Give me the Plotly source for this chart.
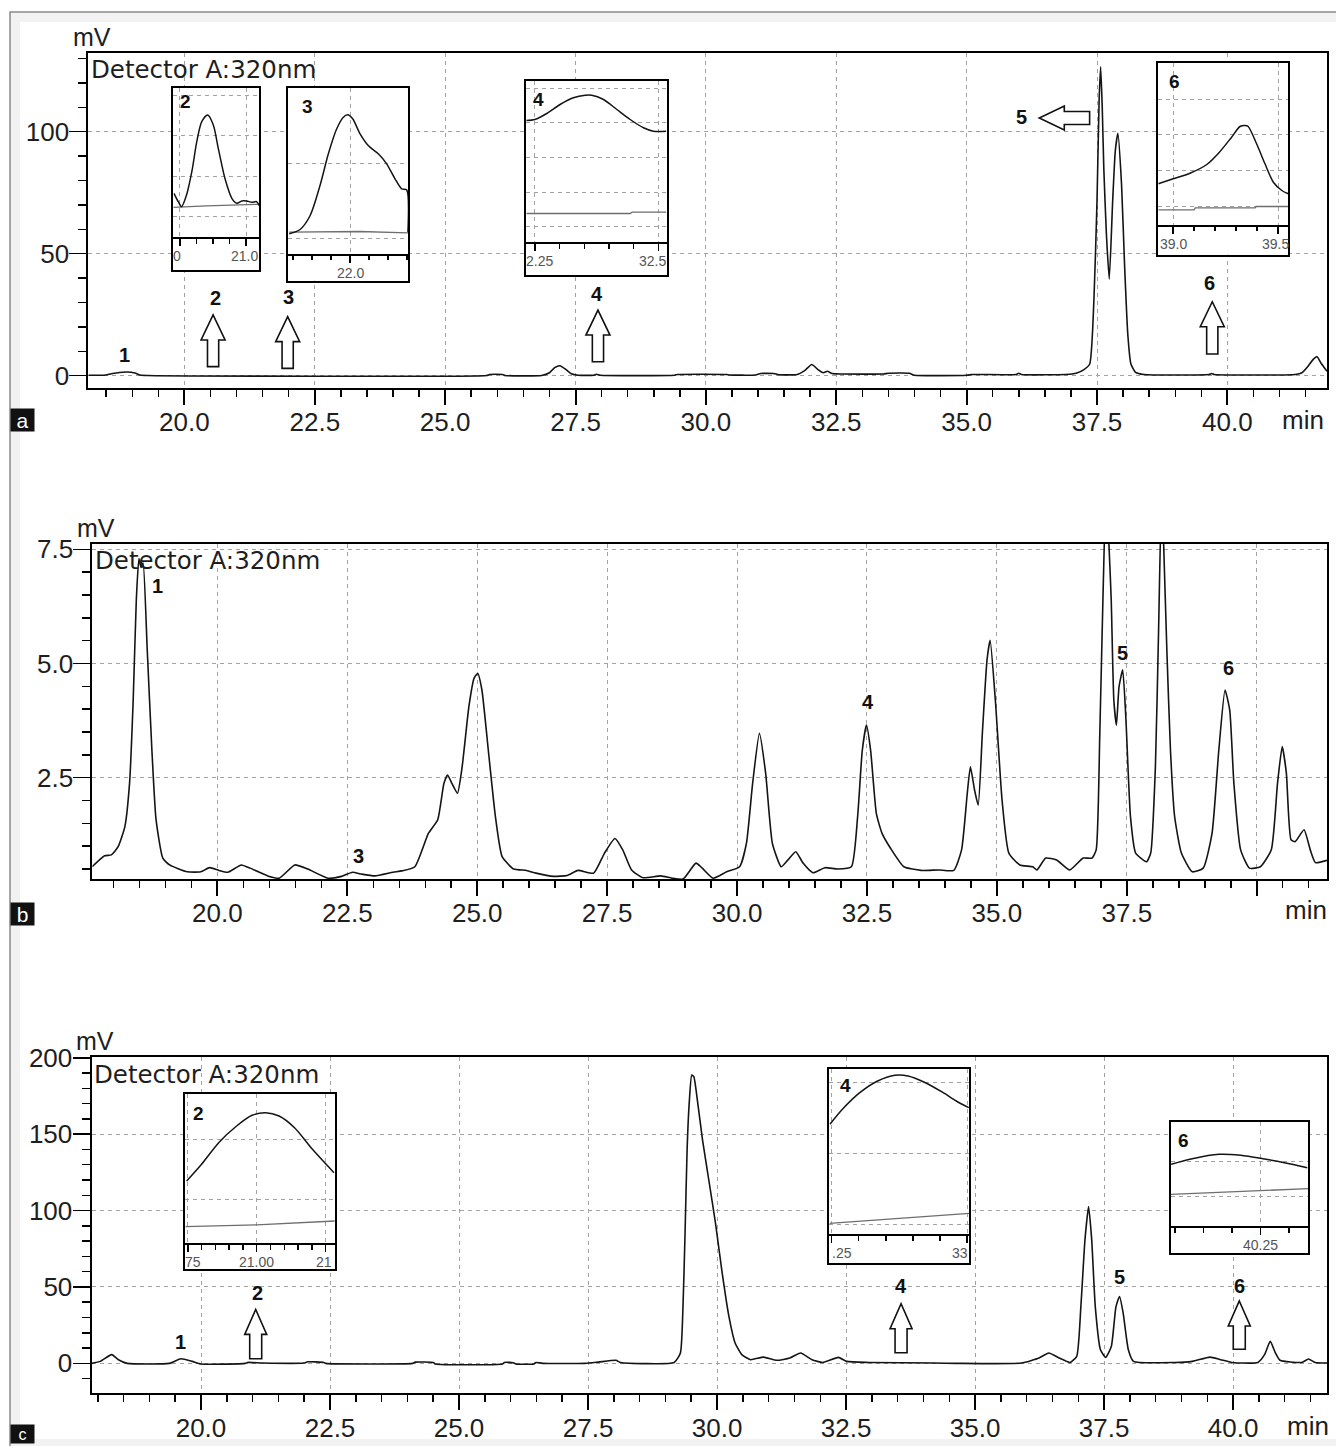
import plotly.graph_objects as go

W, H = 1336, 1446
FONT = "Liberation Sans, Arial, sans-serif"
FONT_WIDE = "DejaVu Sans, Verdana, sans-serif"

# ---------------------------------------------------------------- data
# Panel a : main chromatogram (retention time [min], signal [mV])
a_time = [18.16, 18.45, 18.6, 18.75, 18.9, 19.05, 19.15, 19.3, 25.8, 25.85, 26.1, 26.15,
          26.85, 27.0, 27.1, 27.2, 27.3, 27.42, 27.55, 27.85, 27.9, 27.97, 29.4, 29.45,
          30.4, 30.45, 30.95, 31.05, 31.3, 31.4, 31.75, 31.9, 32.03, 32.15, 32.25, 32.33,
          32.42, 32.6, 33.4, 33.5, 33.9, 34.0, 35.0, 35.1, 35.95, 36.0, 36.05, 36.9,
          37.1, 37.25, 37.36, 37.44, 37.5, 37.54, 37.57, 37.6, 37.63, 37.68, 37.735, 37.8,
          37.85, 37.9, 37.97, 38.03, 38.09, 38.15, 38.24, 38.4, 39.65, 39.7, 39.75, 41.3,
          41.43, 41.55, 41.65, 41.72, 41.8, 41.91]
a_mv = [0.2, 0.2, 0.8, 1.3, 1.5, 1.1, 0.3, 0.1, 0.1, 0.5, 0.5, 0.1,
        0.1, 1.2, 3.3, 4.1, 2.8, 0.8, 0.2, 0.2, 0.6, 0.2, 0.2, 0.5,
        0.5, 0.3, 0.3, 0.9, 0.9, 0.4, 0.5, 2.2, 4.6, 2.5, 1.2, 1.8,
        0.9, 0.7, 0.7, 1.0, 1.0, 0.2, 0.2, 0.5, 0.5, 1.0, 0.5, 0.5,
        1.0, 2.5, 4.8, 30.7, 71.7, 112.7, 126.6, 110.0, 85.0, 58.0, 39.6, 71.7,
        92.0, 99.3, 78.5, 44.4, 17.0, 4.8, 1.4, 0.5, 0.5, 0.9, 0.5, 0.5,
        1.2, 4.0, 6.8, 7.8, 5.0, 1.8]

# Panel b : main chromatogram
b_time = [17.59, 17.83, 17.96, 18.09, 18.22, 18.31, 18.38, 18.44, 18.49, 18.53, 18.57, 18.65,
          18.74, 18.82, 18.95, 19.08, 19.42, 19.68, 19.85, 20.03, 20.2, 20.46, 20.63, 20.97,
          21.19, 21.49, 21.74, 22.13, 22.39, 22.6, 22.77, 23.03, 23.38, 23.55, 23.8, 24.06,
          24.24, 24.36, 24.43, 24.51, 24.62, 24.71, 24.84, 24.94, 25.01, 25.09, 25.22, 25.35,
          25.48, 25.7, 25.95, 26.13, 26.47, 26.73, 26.94, 27.24, 27.45, 27.65, 27.8, 27.97,
          28.19, 28.53, 28.75, 28.96, 29.21, 29.33, 29.54, 29.8, 30.05, 30.18, 30.3, 30.43,
          30.55, 30.68, 30.85, 30.98, 31.13, 31.27, 31.46, 31.69, 31.94, 32.2, 32.32, 32.41,
          32.49, 32.57, 32.68, 32.79, 32.95, 33.21, 33.54, 33.88, 34.17, 34.32, 34.43, 34.49,
          34.57, 34.64, 34.72, 34.81, 34.87, 34.97, 35.1, 35.23, 35.44, 35.69, 35.77, 35.94,
          36.15, 36.4, 36.66, 36.83, 36.91, 36.98, 37.04, 37.1, 37.16, 37.2, 37.25, 37.3,
          37.35, 37.42, 37.48, 37.57, 37.67, 37.88, 37.96, 38.05, 38.11, 38.17, 38.21, 38.27,
          38.34, 38.42, 38.55, 38.76, 38.97, 39.14, 39.27, 39.39, 39.48, 39.56, 39.69, 39.86,
          40.07, 40.28, 40.4, 40.49, 40.57, 40.66, 40.74, 40.91, 41.03, 41.13, 41.35]
b_mv = [0.55, 0.79, 0.81, 0.99, 1.43, 2.38, 4.2, 6.39, 7.3, 7.1, 7.2, 5.3,
        3.1, 1.58, 0.74, 0.59, 0.44, 0.44, 0.53, 0.47, 0.43, 0.59, 0.52, 0.35,
        0.30, 0.59, 0.5, 0.3, 0.34, 0.43, 0.39, 0.35, 0.43, 0.46, 0.55, 1.28,
        1.58, 2.38, 2.56, 2.38, 2.16, 2.74, 4.06, 4.68, 4.78, 4.42, 3.03, 1.65,
        0.77, 0.5, 0.47, 0.41, 0.34, 0.36, 0.47, 0.41, 0.85, 1.17, 0.92, 0.48,
        0.31, 0.35, 0.3, 0.28, 0.63, 0.52, 0.3, 0.44, 0.55, 1.06, 2.38, 3.47,
        2.6, 1.06, 0.55, 0.7, 0.88, 0.63, 0.42, 0.53, 0.5, 0.55, 1.65, 3.1,
        3.65, 3.1, 1.72, 1.28, 0.96, 0.55, 0.47, 0.48, 0.47, 0.92, 2.16, 2.74,
        2.23, 1.9, 3.47, 5.08, 5.51, 4.2, 2.0, 0.85, 0.59, 0.55, 0.48, 0.74,
        0.7, 0.48, 0.74, 0.74, 0.92, 3.47, 6.39, 8.8, 7.5, 6.39, 4.2, 3.65,
        4.49, 4.86, 3.84, 1.65, 0.85, 0.66, 0.85, 2.74, 5.66, 8.8, 7.56, 5.3,
        3.1, 1.65, 0.85, 0.44, 0.52, 1.28, 3.1, 4.42, 3.98, 2.38, 0.92, 0.52,
        0.55, 0.92, 2.38, 3.18, 2.6, 1.14, 1.1, 1.36, 0.92, 0.64, 0.69]

# Panel c : main chromatogram
c_time = [17.88, 18.05, 18.27, 18.4, 18.57, 19.39, 19.61, 19.83, 20.0, 20.86, 20.9, 21.2,
          21.99, 22.07, 22.38, 22.42, 24.1, 24.15, 24.5, 24.54, 25.84, 25.88, 26.05, 26.1,
          26.45, 26.49, 26.62, 27.44, 27.7, 28.04, 28.13, 29.17, 29.29, 29.34, 29.38, 29.42,
          29.46, 29.51, 29.55, 29.62, 29.72, 29.84, 29.97, 30.1, 30.23, 30.35, 30.48, 30.65,
          30.9, 31.16, 31.41, 31.62, 31.84, 32.05, 32.35, 32.51, 32.94, 34.21, 34.63, 35.9,
          36.24, 36.43, 36.63, 36.84, 36.97, 37.05, 37.13, 37.2, 37.26, 37.33, 37.43, 37.53,
          37.64, 37.73, 37.8, 37.87, 37.97, 38.07, 38.87, 39.21, 39.55, 39.76, 39.98, 40.48,
          40.61, 40.72, 40.82, 40.91, 41.33, 41.46, 41.59, 41.82]
c_mv = [0.0, 1.3, 5.7, 2.4, 0.0, 0.0, 3.0, 1.3, -0.4, 0.0, 0.6, 0.2,
        0.2, 1.0, 0.6, 0.0, 0.0, 0.8, 0.6, -0.4, -0.4, 0.6, 0.4, -0.4,
        -0.4, 0.6, 0.0, 0.0, 0.8, 2.0, 0.6, 0.6, 6.8, 37.0, 85.0, 140.0,
        170.0, 188.7, 187.6, 172.0, 146.0, 120.0, 91.7, 59.0, 30.7, 13.3, 5.7, 2.4,
        4.1, 2.0, 3.5, 6.8, 2.4, 0.6, 3.9, 1.3, 0.6, 0.2, 0.0, 0.2,
        3.5, 6.8, 3.5, 0.6, 4.6, 37.0, 81.0, 102.6, 81.0, 37.0, 8.9, 3.9,
        11.0, 37.0, 43.8, 32.9, 8.9, 1.3, 0.6, 1.3, 4.1, 2.4, 0.6, 0.6,
        5.7, 14.4, 6.8, 2.0, 0.6, 2.8, 0.6, 0.2]

# Insets (zoomed views; signal in relative units of each inset)
ia2_t = [20.782, 20.795, 20.805, 20.82, 20.836, 20.851, 20.866, 20.884, 20.901, 20.916,
         20.936, 20.957, 20.972, 20.987, 21.002, 21.017, 21.032, 21.04]
ia2_v = [44, 35.6, 30.6, 42.3, 65.6, 95.6, 115.6, 122.3, 112.3, 89, 59, 39, 34, 36.3,
         36.3, 35, 35.6, 31.6]
ia2_bt = [20.78, 20.88, 21.04]
ia2_bv = [30, 31.5, 33]

ia3_t = [21.68, 21.737, 21.79, 21.842, 21.886, 21.93, 21.965, 21.988, 22.014, 22.053,
         22.096, 22.149, 22.193, 22.237, 22.272, 22.298, 22.305]
ia3_v = [20, 24.3, 38.3, 68.3, 100, 125, 136.6, 139, 135, 120, 108.3, 100, 90, 75, 65, 64, 21.6]
ia3_bt = [21.68, 22.05, 22.305]
ia3_bv = [21.6, 22.3, 21.0]

ia4_t = [32.233, 32.25, 32.274, 32.301, 32.328, 32.352, 32.365, 32.389, 32.416, 32.443,
         32.47, 32.49, 32.516]
ia4_v = [121.7, 122.7, 128.7, 137.7, 144.4, 147, 147, 142.7, 132.7, 122.7, 114.4, 111, 111]
ia4_bt = [32.233, 32.443, 32.447, 32.516]
ia4_bv = [28.7, 28.7, 30, 30]

ia6_t = [38.929, 39.0, 39.08, 39.16, 39.22, 39.278, 39.318, 39.342, 39.357, 39.397,
         39.437, 39.477, 39.517, 39.548]
ia6_v = [40.7, 45.7, 51.3, 60, 72.3, 87.3, 98, 99, 98, 80.7, 60.7, 42.3, 34, 30.7]
ia6_bt = [38.929, 39.1, 39.105, 39.39, 39.395, 39.548]
ia6_bv = [14.7, 14.7, 16.7, 16.7, 18, 18]

ic2_t = [20.746, 20.8, 20.862, 20.927, 20.983, 21.032, 21.081, 21.137, 21.202, 21.28]
ic2_v = [62.3, 79, 100.6, 117.3, 128, 130.6, 127.3, 115.6, 94, 70.6]
ic2_bt = [20.741, 21.0, 21.283]
ic2_bv = [16.6, 18.5, 22.3]

ic4_t = [33.247, 33.27, 33.302, 33.335, 33.367, 33.391, 33.423, 33.456, 33.48, 33.503]
ic4_v = [110, 125, 141.6, 153.3, 159, 158.3, 151.6, 141.6, 133.3, 126.6]
ic4_bt = [33.246, 33.504]
ic4_bv = [11, 21]

ic6_t = [40.093, 40.13, 40.177, 40.215, 40.254, 40.292, 40.332]
ic6_v = [61.7, 67.3, 71.7, 70.7, 67.3, 63.3, 58.3]
ic6_bt = [40.092, 40.334]
ic6_bv = [31.7, 37.3]

# Tick labels
x_tick_vals = [20.0, 22.5, 25.0, 27.5, 30.0, 32.5, 35.0, 37.5, 40.0]
x_tick_text_a = ["20.0", "22.5", "25.0", "27.5", "30.0", "32.5", "35.0", "37.5", "40.0"]
x_tick_text_b = ["20.0", "22.5", "25.0", "27.5", "30.0", "32.5", "35.0", "37.5", ""]
x_tick_text_c = ["20.0", "22.5", "25.0", "27.5", "30.0", "32.5", "35.0", "37.5", "40.0"]
y_tick_vals_a = [0, 50, 100]
y_tick_text_a = ["0", "50", "100"]
y_tick_vals_b = [2.5, 5.0, 7.5]
y_tick_text_b = ["2.5", "5.0", "7.5"]
y_tick_vals_c = [0, 50, 100, 150, 200]
y_tick_text_c = ["0", "50", "100", "150", "200"]

ia2_ticks, ia2_ticktext = [20.8, 21.0], ["0", "21.0"]
ia3_ticks, ia3_ticktext = [22.0], ["22.0"]
ia4_ticks, ia4_ticktext = [32.25, 32.5], ["2.25", "32.5"]
ia6_ticks, ia6_ticktext = [39.0, 39.5], ["39.0", "39.5"]
ic2_ticks, ic2_ticktext = [20.75, 21.0, 21.25], ["75", "21.00", "21"]
ic4_ticks, ic4_ticktext = [33.25, 33.5], [".25", "33"]
ic6_ticks, ic6_ticktext = [40.25], ["40.25"]

# Peak labels (time, mV, text)
a_lab_t = [18.86, 20.59, 22.0, 27.92, 36.05, 39.65]
a_lab_v = [8.5, 32.0, 32.4, 33.5, 106.0, 38.0]
a_lab_s = ["1", "2", "3", "4", "5", "6"]
b_lab_t = [18.85, 22.71, 32.51, 37.41, 39.45]
b_lab_v = [6.70, 0.79, 4.15, 5.24, 4.90]
b_lab_s = ["1", "3", "4", "5", "6"]
c_lab_t = [19.60, 21.09, 33.57, 37.80, 40.12]
c_lab_v = [14.1, 46.2, 50.6, 56.6, 50.4]
c_lab_s = ["1", "2", "4", "5", "6"]

# Hollow arrows pointing at trace peaks (time, base mV, tip mV)
a_arrow_t = [20.55, 21.98, 27.93, 39.71]
a_arrow_base = [3.7, 3.0, 5.7, 8.9]
a_arrow_tip = [24.9, 24.2, 26.9, 30.3]
a_left_arrow = dict(tip=36.393, tail=37.358, y=105.6)
c_arrow_t = [21.06, 33.566, 40.12]
c_arrow_base = [3.0, 6.9, 9.2]
c_arrow_tip = [35.3, 39.0, 40.8]

assert len(a_time) == len(a_mv) and len(b_time) == len(b_mv) and len(c_time) == len(c_mv)

# ---------------------------------------------------------------- layout helpers
def fx(px):
    return px / W


def fy(py):
    return 1 - py / H


def dom_x(x0, x1):
    return [fx(x0), fx(x1)]


def dom_y(top, bottom):
    return [fy(bottom), fy(top)]


PANELS = [
    dict(s="", xd=(88.4, 1327), yd=(52.7, 387.7), xr=(18.159, 41.91), yr=(-4.92, 132.38),
         t=a_time, v=a_mv, xtt=x_tick_text_a, ytv=y_tick_vals_a, ytt=y_tick_text_a, ymin=10,
         mv=(92, 37), mn=(1303, 420), det=(89, 53), letter=("a", 408, 22, 21),
         labs=(a_lab_t, a_lab_v, a_lab_s)),
    dict(s="2", xd=(92.4, 1327), yd=(544, 879), xr=(17.595, 41.352), yr=(0.282, 7.616),
         t=b_time, v=b_mv, xtt=x_tick_text_b, ytv=y_tick_vals_b, ytt=y_tick_text_b, ymin=0.5,
         mv=(96, 528), mn=(1306, 910), det=(93, 544), letter=("b", 902, 22, 21),
         labs=(b_lab_t, b_lab_v, b_lab_s)),
    dict(s="3", xd=(91.5, 1327), yd=(1057, 1393.3), xr=(17.878, 41.82), yr=(-19.6, 200.5),
         t=c_time, v=c_mv, xtt=x_tick_text_c, ytv=y_tick_vals_c, ytt=y_tick_text_c, ymin=10,
         mv=(95, 1041), mn=(1308, 1426), det=(92, 1058), letter=("c", 1424, 18, 16),
         labs=(c_lab_t, c_lab_v, c_lab_s)),
]

# inset: frame (left, right, top, bottom px), inner line py, ranges, grid, label shifts
INSETS = [
    dict(frame=(173.3, 259.3, 88.3, 270.0), inner=237.3, xr=(20.78, 21.04), yr=(0, 149),
         ticks=ia2_ticks, tt=ia2_ticktext, shift=[-3, -1.5], minor=0.05,
         yg=[20.7, 61.2, 101.7, 142.2], t=ia2_t, v=ia2_v, bt=ia2_bt, bv=ia2_bv,
         num="2", npos=(186, 101.7)),
    dict(frame=(288.3, 408.3, 88.3, 280.5), inner=253.8, xr=(21.675, 22.307), yr=(0, 165.5),
         ticks=ia3_ticks, tt=ia3_ticktext, shift=[0], minor=0.1,
         yg=[15.5, 90.5], t=ia3_t, v=ia3_v, bt=ia3_bt, bv=ia3_bv,
         num="3", npos=(307.5, 106.7)),
    dict(frame=(526, 666.7, 80.7, 274.5), inner=242.2, xr=(32.232, 32.517), yr=(0, 161.5),
         ticks=ia4_ticks, tt=ia4_ticktext, shift=[4.3, -5.8], minor=0.05,
         yg=[15.5, 50.1, 84.7, 119.3, 153.9], t=ia4_t, v=ia4_v, bt=ia4_bt, bv=ia4_bv,
         num="4", npos=(538.3, 99.2)),
    dict(frame=(1158.3, 1288.3, 62.5, 254.5), inner=224.5, xr=(38.929, 39.548), yr=(0, 162),
         ticks=ia6_ticks, tt=ia6_ticktext, shift=[0, -2.5], minor=0.1,
         yg=[18.5, 54.1, 89.7, 125.3], t=ia6_t, v=ia6_v, bt=ia6_bt, bv=ia6_bv,
         num="6", npos=(1174, 81.7)),
    dict(frame=(185.3, 334.8, 1094.3, 1269.3), inner=1243.3, xr=(20.741, 21.283), yr=(0, 149),
         ticks=ic2_ticks, tt=ic2_ticktext, shift=[4.8, 0, -2], minor=0.05,
         yg=[44, 104], t=ic2_t, v=ic2_v, bt=ic2_bt, bv=ic2_bv,
         num="2", npos=(198.5, 1113)),
    dict(frame=(829.4, 969.3, 1068.7, 1262.7), inner=1234.3, xr=(33.246, 33.504), yr=(0, 165.6),
         ticks=ic4_ticks, tt=ic4_ticktext, shift=[10.8, -6.9], minor=0.05,
         yg=[10, 81, 152], t=ic4_t, v=ic4_v, bt=ic4_bt, bv=ic4_bv,
         num="4", npos=(845.7, 1085.8)),
    dict(frame=(1170.6, 1308.4, 1122, 1253.3), inner=1226, xr=(40.092, 40.334), yr=(0, 104),
         ticks=ic6_ticks, tt=ic6_ticktext, shift=[0], minor=0.05,
         yg=[30, 65], t=ic6_t, v=ic6_v, bt=ic6_bt, bv=ic6_bv,
         num="6", npos=(1183.5, 1140.8)),
]

GRID = dict(showgrid=True, gridcolor="#a3a3a3", gridwidth=1, griddash="4px,4px")

fig = go.Figure()
layout = dict(template="none", width=W, height=H, margin=dict(l=0, r=0, t=0, b=0, pad=0),
              autosize=False, paper_bgcolor="white", plot_bgcolor="white", showlegend=False,
              font=dict(family=FONT, color="#1a1a1a"))
annotations = []
shapes = []

# page frame (light border band)
shapes.append(dict(type="rect", xref="paper", yref="paper", x0=fx(10), x1=fx(1350), y0=fy(1460),
                   y1=fy(12), line=dict(color="#8a8a8a", width=1.5), fillcolor="#f2f2f2",
                   layer="below"))
shapes.append(dict(type="rect", xref="paper", yref="paper", x0=fx(20), x1=fx(1336), y0=fy(1439),
                   y1=fy(22), line=dict(width=0), fillcolor="white", layer="below"))

for p in PANELS:
    s = p["s"]
    fig.add_trace(go.Scatter(x=p["t"], y=p["v"], mode="lines", xaxis="x" + s, yaxis="y" + s,
                             line=dict(color="#141414", width=1.6, shape="spline",
                                       smoothing=0.5),
                             hoverinfo="skip"))
    layout["xaxis" + s] = dict(
        domain=dom_x(*p["xd"]), range=list(p["xr"]), anchor="y" + s, automargin=False,
        showline=True, linecolor="black", linewidth=2, mirror=True,
        ticks="outside", ticklen=15, tickwidth=2, tickcolor="black",
        tickmode="array", tickvals=x_tick_vals, ticktext=p["xtt"],
        tickfont=dict(family=FONT, size=26, color="#1e1e1e"), ticklabelstandoff=-5,
        zeroline=False, fixedrange=True,
        minor=dict(ticks="outside", ticklen=7, tickwidth=1.5, tickcolor="black",
                   dtick=0.5, tick0=0, showgrid=False),
        **GRID)
    layout["yaxis" + s] = dict(
        domain=dom_y(*p["yd"]), range=list(p["yr"]), anchor="x" + s, automargin=False,
        showline=True, linecolor="black", linewidth=2, mirror=True,
        ticks="outside", ticklen=17, tickwidth=1.5, tickcolor="black",
        tickmode="array", tickvals=p["ytv"], ticktext=p["ytt"],
        tickfont=dict(family=FONT, size=26, color="#1e1e1e"), ticklabelstandoff=-5,
        zeroline=False, fixedrange=True,
        minor=dict(ticks="outside", ticklen=8, tickwidth=1.5, tickcolor="black",
                   dtick=p["ymin"], tick0=0, showgrid=False),
        **GRID)
    # text decorations
    annotations.append(dict(text="mV", xref="paper", yref="paper", x=fx(p["mv"][0]),
                            y=fy(p["mv"][1]), xanchor="center", yanchor="middle",
                            showarrow=False, font=dict(family=FONT, size=25, color="#1e1e1e")))
    annotations.append(dict(text="min", xref="paper", yref="paper", x=fx(p["mn"][0]),
                            y=fy(p["mn"][1]), xanchor="center", yanchor="middle",
                            showarrow=False, font=dict(family=FONT, size=26, color="#1e1e1e")))
    annotations.append(dict(text="Detector A:320nm", xref="paper", yref="paper",
                            x=fx(p["det"][0]), y=fy(p["det"][1]), xanchor="left",
                            yanchor="top", showarrow=False,
                            font=dict(family=FONT_WIDE, size=24.5, color="#1e1e1e")))
    letter, ltop, lh, lfs = p["letter"]
    annotations.append(dict(text=letter, xref="paper", yref="paper", x=fx(10),
                            y=fy(ltop), xanchor="left", yanchor="top",
                            showarrow=False, bgcolor="#111111", width=23, height=lh,
                            borderpad=0, font=dict(family=FONT, size=lfs, color="white")))
    lt, lv, ls = p["labs"]
    for t, v, txt in zip(lt, lv, ls):
        annotations.append(dict(text="<b>%s</b>" % txt, xref="x" + s, yref="y" + s, x=t, y=v,
                                xanchor="center", yanchor="middle", showarrow=False,
                                font=dict(family=FONT, size=20, color="#111")))


def scale(p):
    kx = (p["xr"][1] - p["xr"][0]) / (p["xd"][1] - p["xd"][0])
    ky = (p["yr"][1] - p["yr"][0]) / (p["yd"][1] - p["yd"][0])
    return kx, ky


def up_arrow(xc, yb, yt, kx, ky, hw, sw, hh):
    yn = yt - hh * ky
    pts = [(xc - sw * kx, yb), (xc - sw * kx, yn), (xc - hw * kx, yn), (xc, yt),
           (xc + hw * kx, yn), (xc + sw * kx, yn), (xc + sw * kx, yb)]
    return "M " + " L ".join("%.5f,%.5f" % q for q in pts) + " Z"


def left_arrow(xtip, xtail, yc, kx, ky, hh, sh, hl):
    xn = xtip + hl * kx
    pts = [(xtail, yc + sh * ky), (xn, yc + sh * ky), (xn, yc + hh * ky), (xtip, yc),
           (xn, yc - hh * ky), (xn, yc - sh * ky), (xtail, yc - sh * ky)]
    return "M " + " L ".join("%.5f,%.5f" % q for q in pts) + " Z"


ARROW_STYLE = dict(type="path", line=dict(color="#111", width=1.6), fillcolor="white",
                   layer="above")
kx, ky = scale(PANELS[0])
for t, yb, yt in zip(a_arrow_t, a_arrow_base, a_arrow_tip):
    shapes.append(dict(xref="x", yref="y", path=up_arrow(t, yb, yt, kx, ky, 12, 5.6, 25),
                       **ARROW_STYLE))
shapes.append(dict(xref="x", yref="y",
                   path=left_arrow(a_left_arrow["tip"], a_left_arrow["tail"], a_left_arrow["y"],
                                   kx, ky, 12, 6.5, 25), **ARROW_STYLE))
kx, ky = scale(PANELS[2])
for t, yb, yt in zip(c_arrow_t, c_arrow_base, c_arrow_tip):
    shapes.append(dict(xref="x3", yref="y3", path=up_arrow(t, yb, yt, kx, ky, 11, 6, 25),
                       **ARROW_STYLE))

# insets: backdrop subplot (outer frame, white) + curve subplot
for k, ins in enumerate(INSETS):
    nb = 4 + 2 * k
    nc = nb + 1
    L, R, T, B = ins["frame"]
    layout["xaxis%d" % nb] = dict(domain=dom_x(L, R), range=[0, 1], anchor="y%d" % nb,
                                  showline=True, linecolor="black", linewidth=2, mirror=True,
                                  ticks="", showticklabels=False, showgrid=False,
                                  zeroline=False, fixedrange=True, automargin=False)
    layout["yaxis%d" % nb] = dict(domain=dom_y(T, B), range=[0, 1], anchor="x%d" % nb,
                                  showline=True, linecolor="black", linewidth=2, mirror=True,
                                  ticks="", showticklabels=False, showgrid=False,
                                  zeroline=False, fixedrange=True, automargin=False)
    fig.add_trace(go.Scatter(x=[None], y=[None], xaxis="x%d" % nb, yaxis="y%d" % nb,
                             mode="lines", hoverinfo="skip"))
    layout["xaxis%d" % nc] = dict(
        domain=dom_x(L, R), range=list(ins["xr"]), anchor="y%d" % nc, automargin=False,
        showline=True, linecolor="black", linewidth=2, mirror=True,
        ticks="outside", ticklen=7, tickwidth=1.5, tickcolor="black",
        tickmode="array", tickvals=ins["ticks"], showticklabels=False,
        minor=dict(ticks="outside", ticklen=4.5, tickwidth=1.5, tickcolor="black",
                   dtick=ins["minor"], tick0=0, showgrid=False),
        zeroline=False, fixedrange=True, **GRID)
    layout["yaxis%d" % nc] = dict(
        domain=dom_y(T, ins["inner"]), range=list(ins["yr"]), anchor="x%d" % nc,
        automargin=False, showline=True, linecolor="black", linewidth=2, mirror=True,
        ticks="", showticklabels=False, tickmode="array", tickvals=ins["yg"],
        zeroline=False, fixedrange=True, **GRID)
    fig.add_trace(go.Scatter(x=ins["bt"], y=ins["bv"], mode="lines", xaxis="x%d" % nc,
                             yaxis="y%d" % nc, line=dict(color="#6e6e6e", width=1.3),
                             hoverinfo="skip"))
    fig.add_trace(go.Scatter(x=ins["t"], y=ins["v"], mode="lines", xaxis="x%d" % nc,
                             yaxis="y%d" % nc, line=dict(color="#141414", width=1.5,
                                                         shape="spline", smoothing=0.8),
                             hoverinfo="skip"))
    for val, txt, sh in zip(ins["ticks"], ins["tt"], ins["shift"]):
        annotations.append(dict(text=txt, xref="x%d" % nc, yref="y%d domain" % nc, x=val, y=0,
                                xanchor="center", yanchor="top", xshift=sh, yshift=-9,
                                showarrow=False, font=dict(family=FONT, size=14, color="#555")))
    annotations.append(dict(text="<b>%s</b>" % ins["num"], xref="paper", yref="paper",
                            x=fx(ins["npos"][0]), y=fy(ins["npos"][1]), xanchor="center",
                            yanchor="middle", showarrow=False,
                            font=dict(family=FONT, size=19, color="#111")))

layout["annotations"] = annotations
layout["shapes"] = shapes
fig.update_layout(**layout)

fig.write_html("out.html", include_plotlyjs=True, full_html=True,
               config={"displayModeBar": False, "staticPlot": True},
               post_script="document.body.style.margin='0px';document.body.style.overflow='hidden';")
